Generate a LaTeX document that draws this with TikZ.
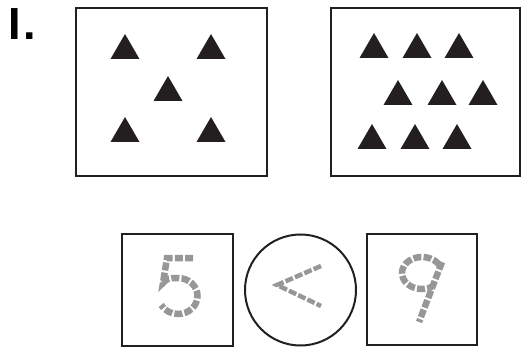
\documentclass[tikz,border=0pt]{standalone}
\usepackage{fontspec}
\setmainfont{Liberation Sans}
\usepackage{tikz}
\usetikzlibrary{calc}

\definecolor{ink}{HTML}{231F20}
\definecolor{trace}{HTML}{979797}

\begin{document}
\begin{tikzpicture}[x=1pt,y=1pt,line join=miter,
    card/.style={draw=ink,line width=2pt,inner sep=0pt},
    tracing/.style={draw=trace,line width=6.5pt,dash pattern=on 8pt off 2.2pt}]
    \useasboundingbox (0,0) rectangle (521,348);
    % heading
    \node[anchor=base west,inner sep=0pt,font=\fontsize{45}{45}\bfseries] (num) at (8,308) {I\kern3pt.};
    % the two sets of triangles
    \node[card,minimum width=191pt,minimum height=168pt] (setA) at (171.5,256) {};
    \node[card,minimum width=189pt,minimum height=168pt] (setB) at (425.5,256) {};
    \foreach \x/\y in {125/314,211/314,168/272,125/231,211/231}
      {\fill[ink] (\x,\y)--++(-14.5,-25)--++(29,0)--cycle;}
    \foreach \x/\y in {374/315,417/315,459/315,398/268,442/268,483/268,372/224,415/224,457/224}
      {\fill[ink] (\x,\y)--++(-14.5,-25)--++(29,0)--cycle;}
    % compare the numbers
    \node[card,minimum width=111pt,minimum height=112pt] (five) at (177.5,58) {};
    \node[card,circle,minimum size=111pt] (sign) at (300.5,58) {};
    \node[card,minimum width=110pt,minimum height=111pt] (nine) at (422,58.5) {};
    \draw[tracing] (193,90)--(167,90)--(163,65) .. controls (168,70) .. (178,70)
      arc[start angle=90,end angle=-150,x radius=19.5,y radius=18];
    \draw[tracing,line width=4.5pt] (321,82)--(277,63)--(321,42);
    \draw[tracing] (439.3,83) arc[start angle=30,end angle=300,x radius=20,y radius=16];
    \draw[tracing] (442,86)--(419,26);
\end{tikzpicture}
\end{document}
